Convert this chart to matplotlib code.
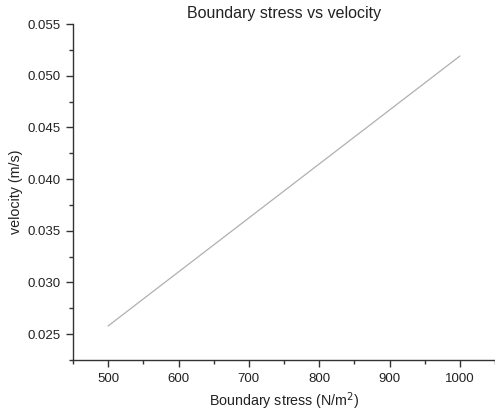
import matplotlib
matplotlib.use("Agg")
import matplotlib.pyplot as plt
from matplotlib.ticker import MultipleLocator

plt.rcParams['font.family'] = ['Liberation Sans', 'DejaVu Sans']

# data
stress = [500, 1000]
velocity = [0.0258, 0.0519]

fig = plt.figure(figsize=(4.95, 4.12), dpi=100)
ax = fig.add_axes([0.1475, 0.1262, 0.8525, 0.8155])

ax.plot(stress, velocity, color="#b0b0b0", linewidth=0.9)

ax.set_xlim(450, 1050)
ax.set_ylim(0.0225, 0.055)
ax.xaxis.set_major_locator(MultipleLocator(100))
ax.xaxis.set_minor_locator(MultipleLocator(50))
ax.yaxis.set_major_locator(MultipleLocator(0.005))
ax.yaxis.set_minor_locator(MultipleLocator(0.0025))
ax.yaxis.set_major_formatter(plt.FormatStrFormatter("%.3f"))

for s in ["top", "right"]:
    ax.spines[s].set_visible(False)
for s in ["left", "bottom"]:
    ax.spines[s].set_color("#333333")
    ax.spines[s].set_linewidth(1.0)

ax.tick_params(which="major", direction="out", length=5, width=1, color="#333333",
               labelsize=9.5, labelcolor="#222222", pad=4)
ax.tick_params(which="minor", direction="out", length=3, width=1, color="#333333")

ax.set_title("Boundary stress vs velocity", fontsize=11.5, color="#222222", pad=4)
ax.set_xlabel("Boundary stress (N/m$^2$)", fontsize=10.3, color="#222222", labelpad=4)
ax.set_ylabel("velocity (m/s)", fontsize=10.3, color="#222222", labelpad=3)

fig.savefig("out.png", dpi=100)
